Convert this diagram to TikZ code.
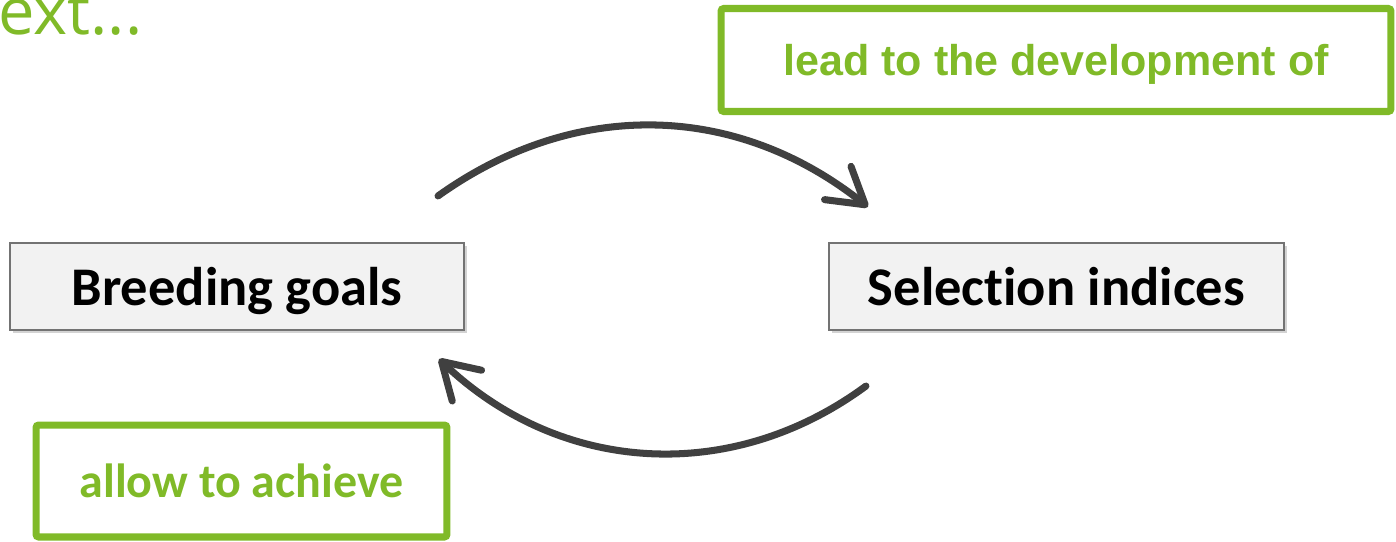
\documentclass[tikz,border=0pt]{standalone}
\usepackage{fontspec}
\setmainfont[Ligatures=NoCommon]{Carlito}
\newfontfamily\arialfont{Liberation Sans}
\newfontfamily\titlefont{Open Sans}
\usetikzlibrary{positioning,arrows.meta,shadows}
\definecolor{leafgreen}{RGB}{128,186,40}
\definecolor{arcgray}{RGB}{64,64,64}
\definecolor{boxgray}{RGB}{242,242,242}
\definecolor{edgegray}{RGB}{115,115,115}
\tikzset{
  stage/.style = {draw=edgegray, line width=1.2pt, fill=boxgray, minimum height=1.74cm, text depth=0pt,
    drop shadow={shadow xshift=1.5pt, shadow yshift=-1.5pt, opacity=.35},
    font=\fontsize{31}{35}\selectfont\bfseries},
  note/.style = {draw=leafgreen, line width=4pt, rounded corners=1.5pt, text=leafgreen},
  cycle/.style = {draw=arcgray, line width=4pt, line cap=round,
    -{Straight Barb[length=7mm, width=8.5mm, line cap=round, line join=round]}}
}
\begin{document}
\begin{tikzpicture}[x=0.02cm, y=-0.02cm]
	\useasboundingbox (0,0) rectangle (1396,541);
	\clip (0,0) rectangle (1396,541);
	% title remnant
	\node[anchor=base west, inner sep=0pt, text=leafgreen, font=\titlefont\fontsize{37}{40}\selectfont] (title) at (-2,34) {ext...};
	% the two stages
	\node[stage, minimum width=9.08cm] (goals) at (237,286.5) {Breeding goals};
	\node[stage, minimum width=9.1cm] (indices) [right=7.26cm of goals] {Selection indices};
	% the two notes
	\node[note, minimum width=13.4cm, minimum height=2.06cm, text depth=0pt, font=\arialfont\fontsize{24.5}{28}\selectfont\bfseries] (lead) at (1056,60) {lead to the development of};
	\node[note, minimum width=8.22cm, minimum height=2.24cm, font=\fontsize{27.3}{30}\selectfont\bfseries] (achieve) at (241.5,481) {allow to achieve};
	% arc ends
	\coordinate (a1) at ([shift={(-27,-46)}]goals.north east);
	\coordinate (a2) at ([shift={(40,-35)}]indices.north west);
	\coordinate (b1) at ([shift={(38,55)}]indices.south west);
	\coordinate (b2) at ([shift={(-26,28)}]goals.south east);
	\draw[cycle] (a1) to[bend left=37] (a2);
	\draw[cycle] (b1) to[bend left=40] (b2);
\end{tikzpicture}
\end{document}
